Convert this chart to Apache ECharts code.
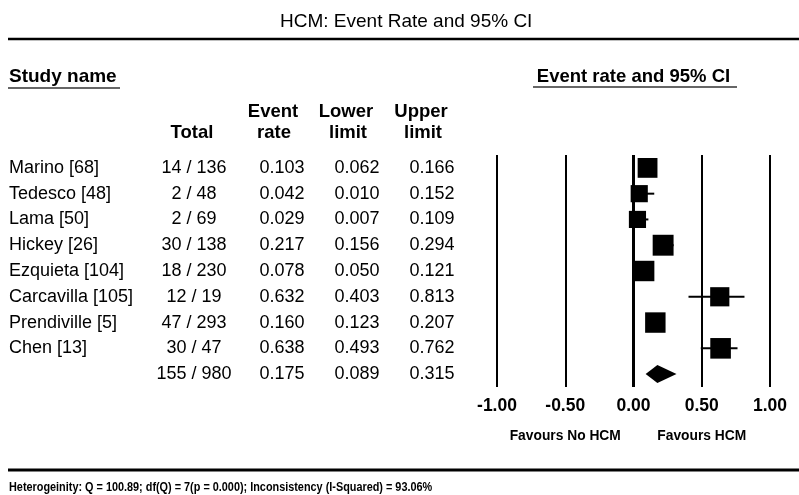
<!DOCTYPE html>
<html>
<head>
<meta charset="utf-8">
<script src="https://cdn.jsdelivr.net/npm/echarts@6/dist/echarts.min.js"></script>
<style>html,body{margin:0;padding:0;background:#fff}#c{width:799px;height:495px}</style>
</head>
<body>
<div id="c"></div>
<script>
// ---- data ----
const studies = ['Marino [68]', 'Tedesco [48]', 'Lama [50]', 'Hickey [26]', 'Ezquieta [104]', 'Carcavilla [105]', 'Prendiville [5]', 'Chen [13]'];
const events = [14, 2, 2, 30, 18, 12, 47, 30];
const totals = [136, 48, 69, 138, 230, 19, 293, 47];
const eventRate = [0.103, 0.042, 0.029, 0.217, 0.078, 0.632, 0.160, 0.638];
const lowerLimit = [0.062, 0.010, 0.007, 0.156, 0.050, 0.403, 0.123, 0.493];
const upperLimit = [0.166, 0.152, 0.109, 0.294, 0.121, 0.813, 0.207, 0.762];
const relWeight = [12.7, 11.0, 11.0, 13.4, 13.1, 12.3, 13.1, 13.2];
const summary = { events: 155, total: 980, rate: 0.175, lower: 0.089, upper: 0.315 };
const xTicks = [-1, -0.5, 0, 0.5, 1];
const favourLabels = { '-0.5': 'Favours No HCM', '0.5': 'Favours HCM' };
const heterogeneity = 'Heterogeinity: Q = 100.89; df(Q) = 7(p = 0.000); Inconsistency (I-Squared) = 93.06%';

// ---- build ----
const FONT = "'Liberation Sans', Arial, sans-serif";
const rowNames = studies.concat(['']);
const totalLabels = events.map((e, i) => e + ' / ' + totals[i]).concat([summary.events + ' / ' + summary.total]);
const rateLabels = eventRate.concat([summary.rate]).map(v => v.toFixed(3));
const lowLabels = lowerLimit.concat([summary.lower]).map(v => v.toFixed(3));
const upLabels = upperLimit.concat([summary.upper]).map(v => v.toFixed(3));

const gridLeft = 497, gridRight = 29, gridTop = 155, gridBottom = 108;

function colAxis(data, centerX, align) {
  return {
    type: 'category', data: data, inverse: true, position: 'left',
    offset: align === 'left' ? 0 : gridLeft - centerX,
    axisLine: { show: false }, axisTick: { show: false }, splitLine: { show: false },
    axisLabel: {
      show: true, interval: 0, margin: align === 'left' ? gridLeft - centerX : 0,
      align: align, color: '#000', fontSize: 18, fontFamily: FONT
    }
  };
}

const studyData = studies.map((s, i) => [i, eventRate[i], lowerLimit[i], upperLimit[i], relWeight[i]]);

const chart = echarts.init(document.getElementById('c'), null, { renderer: 'canvas' });
chart.setOption({
  animation: false,
  backgroundColor: '#fff',
  title: {
    text: 'HCM: Event Rate and 95% CI', left: 280, top: 12, padding: 0,
    textStyle: { fontSize: 19, fontWeight: 'normal', color: '#000', fontFamily: FONT }
  },
  grid: { left: gridLeft, right: gridRight, top: gridTop, bottom: gridBottom },
  xAxis: [{
    type: 'value', min: -1, max: 1, interval: 0.5,
    axisLine: { show: false }, axisTick: { show: false },
    splitLine: { show: true, lineStyle: { color: '#000', width: 2 } },
    axisLabel: {
      margin: 10, color: '#000', fontSize: 17.5, fontWeight: 'bold', fontFamily: FONT,
      showMinLabel: true, showMaxLabel: true, formatter: v => v.toFixed(2)
    }
  }, {
    type: 'value', min: -1, max: 1, interval: 0.5, position: 'bottom', offset: 34,
    axisLine: { show: false }, axisTick: { show: false }, splitLine: { show: false },
    axisLabel: {
      margin: 8, color: '#000', fontSize: 13.8, fontWeight: 'bold', fontFamily: FONT,
      showMinLabel: true, showMaxLabel: true,
      formatter: v => favourLabels[String(v)] || ''
    }
  }],
  yAxis: [
    colAxis(rowNames, 9, 'left'),
    colAxis(totalLabels, 194, 'center'),
    colAxis(rateLabels, 282, 'center'),
    colAxis(lowLabels, 357, 'center'),
    colAxis(upLabels, 432, 'center')
  ],
  series: [{
    type: 'custom', xAxisIndex: 0, yAxisIndex: 0, clip: false,
    encode: { x: [1, 2, 3], y: 0 },
    data: studyData,
    renderItem: function (params, api) {
      const row = api.value(0);
      const pE = api.coord([api.value(1), row]);
      const pL = api.coord([api.value(2), row]);
      const pH = api.coord([api.value(3), row]);
      const s = api.value(4) * 1.56;
      return {
        type: 'group', children: [
          { type: 'line', shape: { x1: pL[0], y1: pE[1], x2: pH[0], y2: pE[1] }, style: { stroke: '#000', lineWidth: 2 } },
          { type: 'rect', shape: { x: pE[0] - s / 2, y: pE[1] - s / 2, width: s, height: s }, style: { fill: '#000' } }
        ]
      };
    },
    markLine: {
      silent: true, symbol: 'none', label: { show: false },
      lineStyle: { color: '#000', width: 3, type: 'solid' },
      data: [{ xAxis: 0 }]
    }
  }, {
    type: 'custom', xAxisIndex: 0, yAxisIndex: 0, clip: false,
    encode: { x: [1, 2, 3], y: 0 },
    data: [[studies.length, summary.rate, summary.lower, summary.upper]],
    renderItem: function (params, api) {
      const row = api.value(0);
      const pE = api.coord([api.value(1), row]);
      const pL = api.coord([api.value(2), row]);
      const pH = api.coord([api.value(3), row]);
      const h = 9;
      return {
        type: 'polygon',
        shape: { points: [[pL[0], pE[1]], [pE[0], pE[1] - h], [pH[0], pE[1]], [pE[0], pE[1] + h]] },
        style: { fill: '#000' }
      };
    }
  }],
  graphic: [
    { type: 'line', shape: { x1: 8, y1: 39, x2: 799, y2: 39 }, style: { stroke: '#000', lineWidth: 2.5 } },
    { type: 'line', shape: { x1: 8, y1: 470, x2: 799, y2: 470 }, style: { stroke: '#000', lineWidth: 3 } },
    { type: 'text', x: 9, y: 77, style: { text: 'Study name', font: 'bold 19px ' + FONT, fill: '#000', textVerticalAlign: 'middle' } },
    { type: 'line', shape: { x1: 8, y1: 88, x2: 120, y2: 88 }, style: { stroke: '#333', lineWidth: 1.5 } },
    { type: 'text', x: 633.5, y: 77, style: { text: 'Event rate and 95% CI', font: 'bold 18.5px ' + FONT, fill: '#000', textAlign: 'center', textVerticalAlign: 'middle' } },
    { type: 'line', shape: { x1: 533, y1: 87, x2: 737, y2: 87 }, style: { stroke: '#333', lineWidth: 1.5 } },
    { type: 'text', x: 192, y: 133, style: { text: 'Total', font: 'bold 18.5px ' + FONT, fill: '#000', textAlign: 'center', textVerticalAlign: 'middle' } },
    { type: 'text', x: 273, y: 112, style: { text: 'Event', font: 'bold 18.5px ' + FONT, fill: '#000', textAlign: 'center', textVerticalAlign: 'middle' } },
    { type: 'text', x: 274, y: 133, style: { text: 'rate', font: 'bold 18.5px ' + FONT, fill: '#000', textAlign: 'center', textVerticalAlign: 'middle' } },
    { type: 'text', x: 346, y: 112, style: { text: 'Lower', font: 'bold 18.5px ' + FONT, fill: '#000', textAlign: 'center', textVerticalAlign: 'middle' } },
    { type: 'text', x: 348, y: 133, style: { text: 'limit', font: 'bold 18.5px ' + FONT, fill: '#000', textAlign: 'center', textVerticalAlign: 'middle' } },
    { type: 'text', x: 421, y: 112, style: { text: 'Upper', font: 'bold 18.5px ' + FONT, fill: '#000', textAlign: 'center', textVerticalAlign: 'middle' } },
    { type: 'text', x: 423, y: 133, style: { text: 'limit', font: 'bold 18.5px ' + FONT, fill: '#000', textAlign: 'center', textVerticalAlign: 'middle' } },
    { type: 'text', x: 9, y: 487, scaleX: 0.817, style: { text: heterogeneity, font: 'bold 13.3px ' + FONT, fill: '#000', textVerticalAlign: 'middle' } }
  ]
});
</script>
</body>
</html>
